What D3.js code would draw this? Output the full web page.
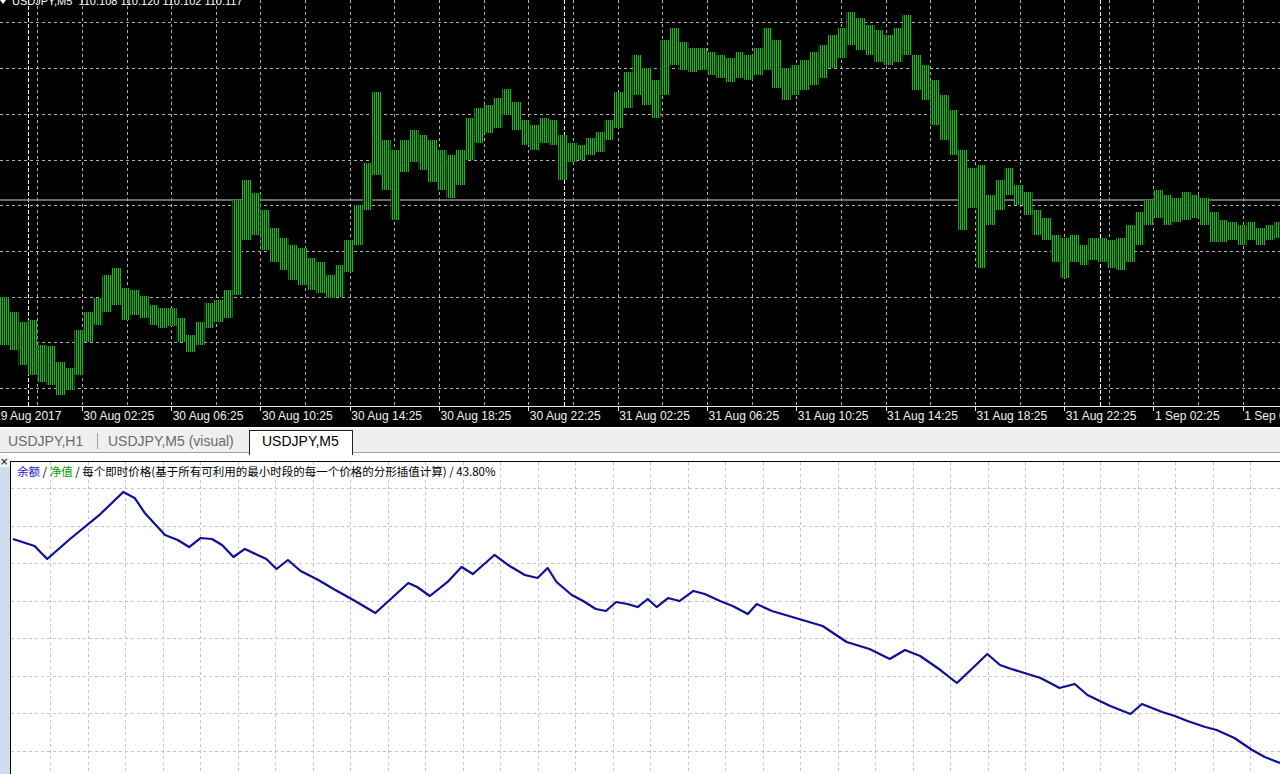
<!DOCTYPE html>
<html><head><meta charset="utf-8">
<script src="https://cdn.jsdelivr.net/npm/d3@7"></script>
<style>html,body{margin:0;padding:0;background:#000;overflow:hidden}svg{display:block}</style>
</head><body>
<svg id="c" width="1280" height="774"></svg>
<script>
// ---------- DATA ----------
const symbolTitle = "USDJPY,M5";
const ohlcHeader = ["110.108", "110.120", "110.102", "110.117"];
const bidPrice = 110.117;
// each group = 5 M5 bars (25 minutes) starting 2017-08-29 22:45
const groupHigh = [109.826,109.781,109.751,109.757,109.682,109.679,109.631,109.613,109.727,109.781,
109.823,109.892,109.913,109.853,109.847,109.829,109.802,109.793,109.793,109.763,
109.712,109.751,109.808,109.817,109.847,110.117,110.177,110.138,110.087,110.033,
110.003,109.982,109.973,109.943,109.931,109.892,109.922,109.997,110.102,110.228,
110.441,110.297,110.267,110.297,110.327,110.312,110.297,110.267,110.252,110.267,
110.363,110.393,110.402,110.423,110.450,110.411,110.357,110.342,110.363,110.357,
110.312,110.288,110.282,110.303,110.321,110.357,110.441,110.501,110.552,110.513,
110.477,110.597,110.633,110.591,110.573,110.573,110.561,110.552,110.543,110.561,
110.552,110.573,110.633,110.597,110.513,110.522,110.537,110.561,110.582,110.612,
110.633,110.681,110.663,110.642,110.627,110.612,110.633,110.672,110.552,110.522,
110.477,110.432,110.387,110.267,110.213,110.222,110.132,110.177,110.213,110.162,
110.141,110.087,110.063,110.012,110.003,110.012,109.982,110.003,110.003,109.997,
110.003,110.042,110.081,110.117,110.147,110.132,110.123,110.141,110.132,110.123,
110.081,110.057,110.051,110.042,110.051,110.033,110.042,110.051];
const groupLow = [109.682,109.667,109.622,109.592,109.571,109.562,109.532,109.547,109.592,109.691,
109.742,109.781,109.802,109.757,109.772,109.763,109.742,109.733,109.739,109.691,
109.661,109.682,109.733,109.751,109.763,109.832,109.997,110.012,109.967,109.931,
109.907,109.877,109.862,109.847,109.838,109.823,109.826,109.901,109.982,110.087,
110.192,110.147,110.057,110.201,110.231,110.207,110.171,110.147,110.123,110.162,
110.237,110.288,110.318,110.333,110.372,110.327,110.282,110.267,110.288,110.282,
110.177,110.231,110.237,110.252,110.261,110.297,110.333,110.393,110.432,110.402,
110.363,110.432,110.522,110.507,110.501,110.507,110.492,110.483,110.471,110.483,
110.477,110.492,110.507,110.453,110.417,110.432,110.447,110.462,110.483,110.513,
110.543,110.582,110.567,110.552,110.531,110.522,110.531,110.552,110.447,110.417,
110.342,110.297,110.252,110.027,110.093,109.913,110.042,110.087,110.132,110.102,
110.072,110.012,109.997,109.931,109.883,109.931,109.922,109.937,109.931,109.913,
109.907,109.931,109.982,110.042,110.063,110.042,110.051,110.057,110.063,110.042,
109.991,109.991,109.997,109.982,109.997,109.982,109.997,110.003];
const gridPrices = [110.651,110.513,110.375,110.237,110.102,109.964,109.826,109.691,109.553];
const tickTimes = ["2017-08-29 22:25","2017-08-30 02:25","2017-08-30 06:25","2017-08-30 10:25","2017-08-30 14:25",
"2017-08-30 18:25","2017-08-30 22:25","2017-08-31 02:25","2017-08-31 06:25","2017-08-31 10:25",
"2017-08-31 14:25","2017-08-31 18:25","2017-08-31 22:25","2017-09-01 02:25","2017-09-01 06:25"];
const tickLabels = ["29 Aug 2017","30 Aug 02:25","30 Aug 06:25","30 Aug 10:25","30 Aug 14:25",
"30 Aug 18:25","30 Aug 22:25","31 Aug 02:25","31 Aug 06:25","31 Aug 10:25",
"31 Aug 14:25","31 Aug 18:25","31 Aug 22:25","1 Sep 02:25","1 Sep 06:25"];
const daySeparators = ["2017-08-30 00:00","2017-08-31 00:00","2017-09-01 00:00"];
const tabs = ["USDJPY,H1","USDJPY,M5 (visual)","USDJPY,M5"];
// tester graph
const deals = [0,1.7,2.7,4.5,6.9,8.7,9.6,10.4,12.0,13.0,13.9,14.8,15.7,16.5,17.4,18.3,19.3,20.0,20.8,21.7,
22.7,24.1,25.3,27.0,28.6,29.9,31.2,31.9,32.9,34.3,35.4,36.3,38.0,39.2,40.4,41.4,42.2,42.9,44.1,45.0,
46.0,46.8,47.6,48.5,49.3,50.1,50.8,51.7,52.6,53.7,54.6,55.8,56.8,58.0,58.7,59.9,61.5,63.9,65.8,67.6,
69.2,70.4,71.6,73.2,74.5,75.5,76.9,77.9,78.8,81.1,82.6,83.8,84.8,86.6,88.2,89.1,90.7,91.7,92.7,94.1,
95.0,96.4,97.8,98.8,100.0];
const balance = [10032,10022.7,10005.3,10032,10065.3,10094.7,10086.7,10066.7,10037.3,10030.7,
10021.3,10033.3,10032,10024,10008,10018.7,10010.7,10005.3,9992,10004,
9989.3,9977.3,9965.3,9949.3,9933.3,9953.3,9973.3,9968,9956,9974.7,
9994.7,9985.3,10010.7,9996,9984,9980,9993.3,9974.7,9957.3,9949.3,
9938.7,9936,9948,9945.3,9941.3,9952,9941.3,9953.3,9949.3,9962.7,
9958.7,9949.3,9942.7,9932,9945.3,9936,9928,9916,9894.7,9885.3,
9872,9884,9876,9857.3,9840,9856,9878.7,9864,9858.7,9846.7,
9833.3,9838.7,9824,9809.3,9798.7,9812,9801.3,9796,9789.3,9781.3,
9777.3,9766.7,9750.7,9741.3,9733.3];
const legendParts = [["余额","#1a1ad0"],[" / ","#000"],["净值","#00a000"],[" / 每个即时价格(基于所有可利用的最小时段的每一个价格的分形插值计算) / 43.80%","#000"]];

// ---------- DRAW ----------
(function(){
const parse = d3.timeParse("%Y-%m-%d %H:%M");
const svg = d3.select("#c");
const W = 1280;
const t0 = parse("2017-08-29 22:45"), t1 = parse("2017-09-01 08:05");
const x = d3.scaleTime().domain([t0, t1]).range([0, W]);
const y = d3.scaleLinear().domain([110.717, 109.499]).range([0, 406]);

const defs = svg.append("defs");
const pat = defs.append("pattern").attr("id","bars").attr("patternUnits","userSpaceOnUse")
  .attr("width", 2).attr("height", 4);
pat.append("rect").attr("width",2).attr("height",4).attr("fill","#041c04");
pat.append("rect").attr("width",1).attr("height",4).attr("fill","#1fb41f");
defs.append("clipPath").attr("id","topclip").append("rect").attr("width",W).attr("height",406);
defs.append("clipPath").attr("id","botclip").append("rect").attr("x",11).attr("y",462).attr("width",W).attr("height",320);

// top panel
svg.append("rect").attr("width",W).attr("height",427).attr("fill","#000");
const topG = svg.append("g").attr("clip-path","url(#topclip)");
topG.selectAll("line.hg").data(gridPrices).join("line")
  .attr("x1",0).attr("x2",W).attr("y1",d=>Math.round(y(d))+0.5).attr("y2",d=>Math.round(y(d))+0.5)
  .attr("stroke","#b0b0b0").attr("stroke-dasharray","3,3");
const g0 = parse("2017-08-29 22:25");
const gridTimes = d3.range(0, 30).map(k => new Date(g0.getTime() + k*7200000));
topG.selectAll("line.vg").data(gridTimes).join("line")
  .attr("x1",d=>Math.round(x(d))+0.5).attr("x2",d=>Math.round(x(d))+0.5).attr("y1",0).attr("y2",406)
  .attr("stroke","#b0b0b0").attr("stroke-dasharray","3,3");
topG.selectAll("line.ds").data(daySeparators.map(parse)).join("line")
  .attr("x1",d=>Math.round(x(d))+0.5).attr("x2",d=>Math.round(x(d))+0.5).attr("y1",0).attr("y2",406)
  .attr("stroke","#ffffff").attr("stroke-dasharray","4,2");
topG.append("line").attr("x1",0).attr("x2",W).attr("y1",y(bidPrice)).attr("y2",y(bidPrice))
  .attr("stroke","#8c8c8c").attr("stroke-width",1.6);
const step = 25*60000;
topG.selectAll("rect.bar").data(groupHigh).join("rect")
  .attr("x", (d,i)=>x(new Date(t0.getTime()+i*step)))
  .attr("width", (d,i)=>x(new Date(t0.getTime()+(i+1)*step)) - x(new Date(t0.getTime()+i*step)))
  .attr("y", d=>y(d))
  .attr("height", (d,i)=>y(groupLow[i]) - y(d))
  .attr("fill","url(#bars)");
svg.append("path").attr("d","M0,0 L6,0 L3,4 Z").attr("fill","#fff");
svg.append("text").attr("x",12).attr("y",5).attr("fill","#fff")
  .attr("font-family","Liberation Sans, Arial, sans-serif").attr("font-size",11)
  .attr("xml:space","preserve")
  .text(symbolTitle + "  " + ohlcHeader.join(" "));
svg.append("line").attr("x1",0).attr("x2",W).attr("y1",406.5).attr("y2",406.5).attr("stroke","#e8e8e8");
const ticks = tickTimes.map(parse);
svg.selectAll("line.tk").data(ticks).join("line")
  .attr("x1",d=>Math.round(x(d))+0.5).attr("x2",d=>Math.round(x(d))+0.5).attr("y1",406).attr("y2",411)
  .attr("stroke","#e8e8e8");
svg.selectAll("text.tl").data(ticks).join("text")
  .attr("x",d=>x(d)+1.5).attr("y",419.5).attr("fill","#f0f0f0")
  .attr("font-family","Liberation Sans, Arial, sans-serif").attr("font-size",12)
  .text((d,i)=>tickLabels[i]);

// tab bar
svg.append("rect").attr("y",427).attr("width",W).attr("height",347).attr("fill","#ffffff");
svg.append("rect").attr("y",427).attr("width",W).attr("height",26).attr("fill","#efefef");
svg.append("line").attr("x1",0).attr("x2",W).attr("y1",427.5).attr("y2",427.5).attr("stroke","#ffffff");
svg.append("line").attr("x1",0).attr("x2",249).attr("y1",452.5).attr("y2",452.5).attr("stroke","#a0a0a0");
svg.append("line").attr("x1",352).attr("x2",W).attr("y1",452.5).attr("y2",452.5).attr("stroke","#a0a0a0");
svg.append("rect").attr("x",249.5).attr("y",430.5).attr("width",103).attr("height",24)
  .attr("fill","#fff").attr("stroke","#202020");
svg.append("rect").attr("x",250).attr("y",452).attr("width",102).attr("height",4).attr("fill","#fff");
svg.append("line").attr("x1",97.5).attr("x2",97.5).attr("y1",433).attr("y2",449).attr("stroke","#a0a0a0");
const tabX = [8, 108, 262];
svg.selectAll("text.tab").data(tabs).join("text")
  .attr("x",(d,i)=>tabX[i]).attr("y",446)
  .attr("fill",(d,i)=>i===2?"#000":"#6a6a6a")
  .attr("font-family","Liberation Sans, Arial, sans-serif").attr("font-size",14)
  .text(d=>d);

// left strip
svg.append("rect").attr("x",0).attr("y",456).attr("width",10).attr("height",318).attr("fill","#cfdcee");
svg.append("rect").attr("x",0).attr("y",455).attr("width",10).attr("height",12).attr("fill","#f4f4f4");
svg.append("text").attr("x",0).attr("y",465).attr("font-family","DejaVu Sans, sans-serif")
  .attr("font-size",10).attr("fill","#000").text("×");

// tester graph
const xb = d3.scaleLinear().domain([0,100]).range([13, W]);
const yb = d3.scaleLinear().domain([10000,10100]).range([563,488]);
const bot = svg.append("g").attr("clip-path","url(#botclip)");
bot.append("rect").attr("x",10).attr("y",461).attr("width",W).attr("height",320).attr("fill","#fff");
const hLines = d3.range(1, 9).map(k => 450.5 + 37.5*k);
bot.selectAll("line.bh").data(hLines).join("line")
  .attr("x1",11).attr("x2",W).attr("y1",d=>Math.round(d)+0.5).attr("y2",d=>Math.round(d)+0.5)
  .attr("stroke","#c4c4c4").attr("stroke-dasharray","3,3");
const vLines = d3.range(1, 34).map(k => 12.5 + 37.5*k);
bot.selectAll("line.bv").data(vLines).join("line")
  .attr("x1",d=>Math.round(d)+0.5).attr("x2",d=>Math.round(d)+0.5).attr("y1",462).attr("y2",774)
  .attr("stroke","#c4c4c4").attr("stroke-dasharray","3,3");
const line = d3.line().x((d,i)=>xb(deals[i])).y(d=>yb(d));
bot.append("path").datum(balance).attr("d",line).attr("fill","none")
  .attr("stroke","#0e0e96").attr("stroke-width",2.2).attr("stroke-linejoin","round");
svg.append("line").attr("x1",10).attr("x2",W).attr("y1",461.5).attr("y2",461.5).attr("stroke","#000");
svg.append("line").attr("x1",10.5).attr("x2",10.5).attr("y1",461).attr("y2",774).attr("stroke","#000");
const lg = svg.append("text").attr("x",17).attr("y",476)
  .attr("font-family","Noto Sans CJK SC, sans-serif").attr("font-size",11.5).attr("xml:space","preserve");
legendParts.forEach(p => lg.append("tspan").attr("fill",p[1]).text(p[0]));
})();
</script>
</body></html>
